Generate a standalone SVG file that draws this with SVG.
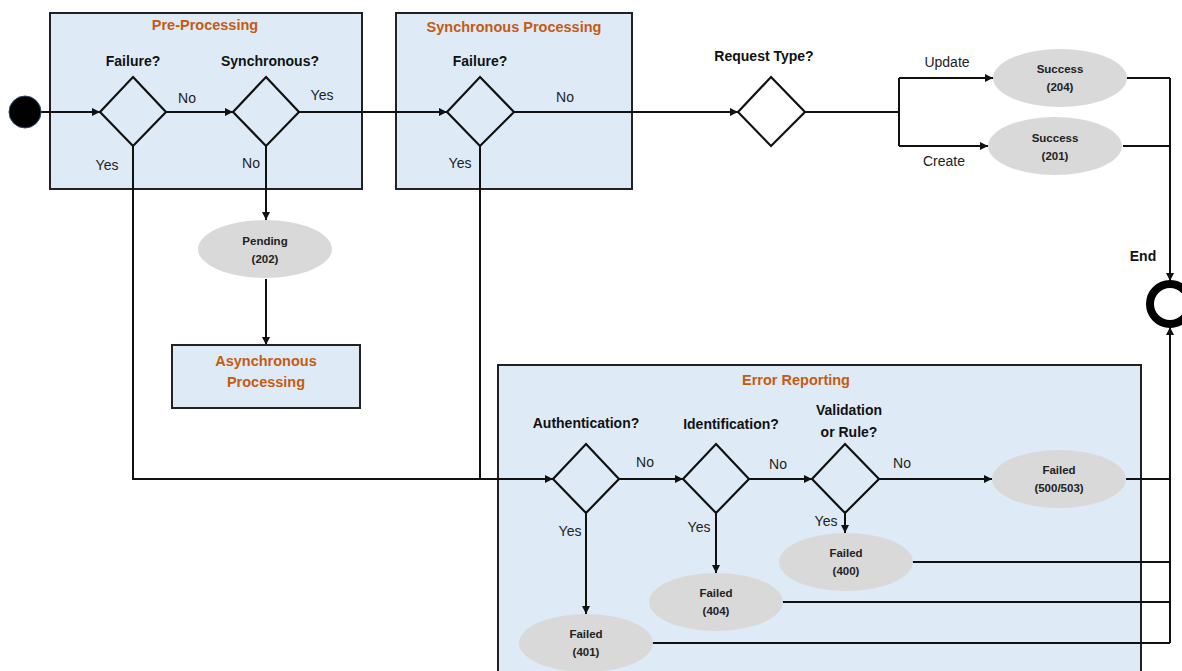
<svg xmlns="http://www.w3.org/2000/svg" width="1182" height="671" viewBox="0 0 1182 671">
<style>
.box{fill:#DEEBF7;stroke:#222;stroke-width:2}
.title{font-family:"Liberation Sans",Arial,sans-serif;font-weight:bold;font-size:14.5px;fill:#C55A11;text-anchor:middle}
.q{font-family:"Liberation Sans",Arial,sans-serif;font-weight:bold;font-size:14px;fill:#111;text-anchor:middle}
.lbl{font-family:"Liberation Sans",Arial,sans-serif;font-size:14px;fill:#222;text-anchor:middle}
.nt{font-family:"Liberation Sans",Arial,sans-serif;font-weight:bold;font-size:11.5px;fill:#222;text-anchor:middle}
.dia{fill:none;stroke:#111;stroke-width:2.2}
.ell{fill:#D9D9D9;stroke:none}
.c{fill:none;stroke:#111;stroke-width:2}
.a{marker-end:url(#arr)}
</style>
<defs>
<marker id="arr" viewBox="0 0 10 10" refX="10" refY="5" markerWidth="9" markerHeight="8" markerUnits="userSpaceOnUse" orient="auto">
<path d="M0,0 L10,5 L0,10 z" fill="#111"/>
</marker>
</defs>

<g id="pre-processing">
<rect class="box" x="50" y="13" width="312" height="176"/>
<text class="title" x="205" y="30">Pre-Processing</text>
</g>
<g id="synchronous-processing">
<rect class="box" x="396" y="13" width="236" height="176"/>
<text class="title" x="514" y="32">Synchronous Processing</text>
</g>
<g id="error-reporting">
<rect class="box" x="498" y="365" width="643" height="320"/>
<text class="title" x="796" y="385">Error Reporting</text>
</g>

<g id="connectors">
<path class="c a" d="M41,112 H100"/>
<path class="c a" d="M166,112 H233"/>
<path class="c a" d="M299,112 H447"/>
<path class="c a" d="M514,112 H738"/>
<path class="c" d="M805,112 H899 M899,78 V146"/>
<path class="c a" d="M899,78 H993"/>
<path class="c a" d="M899,146 H988"/>
<path class="c" d="M1127,78 H1170 M1123,146 H1170"/>
<path class="c a" d="M1170,78 V281"/>
<path class="c a" d="M266,146 V220"/>
<path class="c a" d="M266,279 V345"/>
<path class="c" d="M133,146 V479 H480"/>
<path class="c" d="M480,146 V479"/>
<path class="c a" d="M480,479 H553"/>
<path class="c a" d="M619,479 H683"/>
<path class="c a" d="M749,479 H812"/>
<path class="c a" d="M879,479 H992"/>
<path class="c a" d="M845,513 V533"/>
<path class="c a" d="M716,513 V573"/>
<path class="c a" d="M586,513 V614"/>
<path class="c" d="M1126,479 H1170 M912,562 H1170 M782,602 H1170 M652,643 H1170"/>
<path class="c a" d="M1170,643 V327"/>
<text class="lbl" x="187" y="103">No</text>
<text class="lbl" x="107" y="170">Yes</text>
<text class="lbl" x="322" y="100">Yes</text>
<text class="lbl" x="251" y="168">No</text>
<text class="lbl" x="565" y="102">No</text>
<text class="lbl" x="460" y="168">Yes</text>
<text class="lbl" x="947" y="67">Update</text>
<text class="lbl" x="944" y="166">Create</text>
<text class="lbl" x="645" y="467">No</text>
<text class="lbl" x="778" y="469">No</text>
<text class="lbl" x="902" y="468">No</text>
<text class="lbl" x="570" y="536">Yes</text>
<text class="lbl" x="699" y="532">Yes</text>
<text class="lbl" x="826" y="526">Yes</text>
</g>

<g id="start">
<circle cx="25" cy="112" r="16" fill="#000" stroke="#2E4A6B" stroke-width="1"/>
</g>
<g id="failure-pre">
<path class="dia" d="M133,77 L166,112 L133,146 L100,112 Z"/>
<text class="q" x="133" y="66">Failure?</text>
</g>
<g id="synchronous-q">
<path class="dia" d="M266,77 L299,112 L266,146 L233,112 Z"/>
<text class="q" x="270" y="66">Synchronous?</text>
</g>
<g id="failure-sync">
<path class="dia" d="M480,77 L514,112 L480,146 L447,112 Z"/>
<text class="q" x="480" y="66">Failure?</text>
</g>
<g id="request-type">
<path class="dia" d="M771,77 L805,112 L771,146 L738,112 Z" fill="#fff"/>
<text class="q" x="764" y="61">Request Type?</text>
</g>
<g id="success-204">
<ellipse class="ell" cx="1060" cy="78" rx="67" ry="29"/>
<text class="nt" x="1060" y="73">Success</text>
<text class="nt" x="1060" y="91">(204)</text>
</g>
<g id="success-201">
<ellipse class="ell" cx="1055" cy="146" rx="67" ry="29"/>
<text class="nt" x="1055" y="142">Success</text>
<text class="nt" x="1055" y="160">(201)</text>
</g>
<g id="end">
<text class="q" x="1143" y="261">End</text>
<circle cx="1170" cy="304" r="20" fill="#fff" stroke="#000" stroke-width="8"/>
</g>
<g id="pending-202">
<ellipse class="ell" cx="265" cy="249" rx="67" ry="29"/>
<text class="nt" x="265" y="245">Pending</text>
<text class="nt" x="265" y="263">(202)</text>
</g>
<g id="asynchronous-processing">
<rect class="box" x="172" y="345" width="188" height="63"/>
<text class="title" x="266" y="366">Asynchronous</text>
<text class="title" x="266" y="387">Processing</text>
</g>
<g id="authentication">
<path class="dia" d="M586,444 L619,479 L586,513 L553,479 Z"/>
<text class="q" x="586" y="428">Authentication?</text>
</g>
<g id="identification">
<path class="dia" d="M716,444 L749,479 L716,513 L683,479 Z"/>
<text class="q" x="731" y="429">Identification?</text>
</g>
<g id="validation">
<path class="dia" d="M845,444 L879,479 L845,513 L812,479 Z"/>
<text class="q" x="849" y="415">Validation</text>
<text class="q" x="849" y="437">or Rule?</text>
</g>
<g id="failed-500">
<ellipse class="ell" cx="1059" cy="479" rx="67" ry="29"/>
<text class="nt" x="1059" y="474">Failed</text>
<text class="nt" x="1059" y="492">(500/503)</text>
</g>
<g id="failed-400">
<ellipse class="ell" cx="846" cy="562" rx="67" ry="29"/>
<text class="nt" x="846" y="557">Failed</text>
<text class="nt" x="846" y="575">(400)</text>
</g>
<g id="failed-404">
<ellipse class="ell" cx="716" cy="602" rx="67" ry="29"/>
<text class="nt" x="716" y="597">Failed</text>
<text class="nt" x="716" y="615">(404)</text>
</g>
<g id="failed-401">
<ellipse class="ell" cx="586" cy="643" rx="67" ry="29"/>
<text class="nt" x="586" y="638">Failed</text>
<text class="nt" x="586" y="656">(401)</text>
</g>
</svg>
